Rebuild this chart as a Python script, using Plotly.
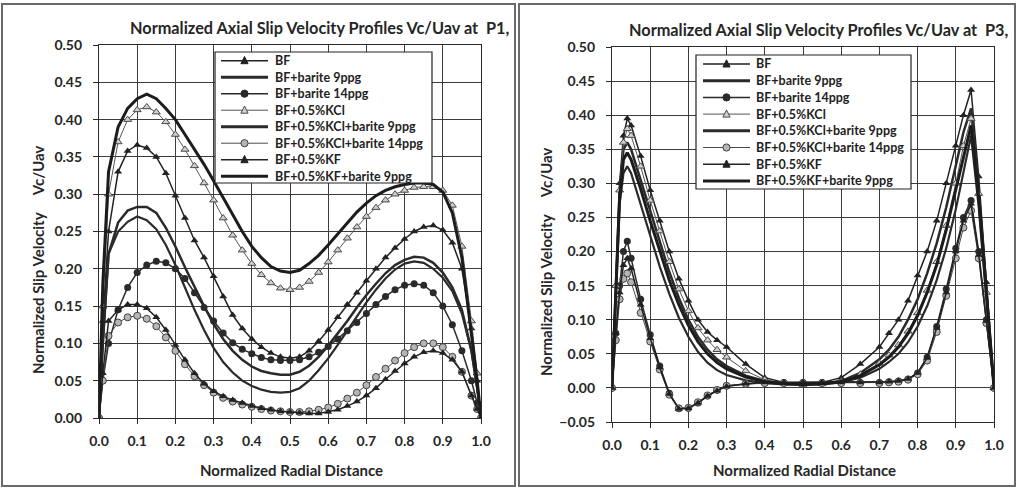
import plotly.graph_objects as go

# ---------------- data ----------------
names = ["BF", "BF+barite 9ppg", "BF+barite 14ppg", "BF+0.5%KCl",
         "BF+0.5%KCl+barite 9ppg", "BF+0.5%KCl+barite 14ppg", "BF+0.5%KF",
         "BF+0.5%KF+barite 9ppg"]

x_ticks = [0.0, 0.1, 0.2, 0.3, 0.4, 0.5, 0.6, 0.7, 0.8, 0.9, 1.0]

# P1 panel
x_p1 = [0, 0.01, 0.025, 0.05, 0.075, 0.1, 0.125, 0.15, 0.175, 0.2, 0.225, 0.25,
        0.275, 0.3, 0.325, 0.35, 0.375, 0.4, 0.425, 0.45, 0.475, 0.5, 0.525, 0.55,
        0.575, 0.6, 0.625, 0.65, 0.675, 0.7, 0.725, 0.75, 0.775, 0.8, 0.825, 0.85,
        0.875, 0.9, 0.925, 0.95, 0.975, 0.99, 1.0]

p1_bf = [0, 0.13, 0.25, 0.33, 0.358, 0.366, 0.362, 0.35, 0.328, 0.298, 0.268, 0.238,
         0.215, 0.19, 0.163, 0.138, 0.12, 0.106, 0.095, 0.087, 0.082, 0.08, 0.082, 0.09,
         0.103, 0.118, 0.135, 0.152, 0.168, 0.184, 0.2, 0.215, 0.228, 0.24, 0.25, 0.256,
         0.258, 0.252, 0.235, 0.2, 0.12, 0.05, 0]
p1_bar9 = [0, 0.1, 0.22, 0.262, 0.278, 0.283, 0.283, 0.275, 0.255, 0.23, 0.202, 0.175,
           0.15, 0.126, 0.106, 0.09, 0.078, 0.069, 0.063, 0.06, 0.058, 0.058, 0.062, 0.07,
           0.082, 0.097, 0.113, 0.13, 0.148, 0.165, 0.18, 0.194, 0.205, 0.212, 0.216, 0.215,
           0.208, 0.195, 0.175, 0.145, 0.09, 0.04, 0]
p1_bar14 = [0, 0.05, 0.1, 0.145, 0.175, 0.195, 0.205, 0.21, 0.208, 0.2, 0.187, 0.168,
            0.148, 0.13, 0.114, 0.101, 0.092, 0.086, 0.081, 0.078, 0.077, 0.077, 0.078, 0.082,
            0.088, 0.096, 0.106, 0.117, 0.128, 0.14, 0.152, 0.163, 0.172, 0.178, 0.18, 0.178,
            0.168, 0.15, 0.125, 0.09, 0.05, 0.02, 0]
p1_kcl = [0, 0.15, 0.30, 0.37, 0.40, 0.413, 0.417, 0.41, 0.397, 0.38, 0.36, 0.338,
          0.315, 0.292, 0.268, 0.245, 0.225, 0.207, 0.192, 0.181, 0.174, 0.172, 0.175, 0.183,
          0.195, 0.209, 0.225, 0.241, 0.256, 0.27, 0.282, 0.292, 0.3, 0.305, 0.309, 0.31,
          0.31, 0.305, 0.285, 0.23, 0.13, 0.06, 0]
p1_kcl_bar9 = [0, 0.1, 0.22, 0.25, 0.263, 0.27, 0.265, 0.253, 0.232, 0.205, 0.175, 0.145,
               0.118, 0.094, 0.075, 0.061, 0.05, 0.043, 0.038, 0.035, 0.034, 0.035, 0.04, 0.05,
               0.064, 0.08, 0.098, 0.117, 0.136, 0.155, 0.172, 0.187, 0.199, 0.207, 0.21, 0.208,
               0.2, 0.188, 0.17, 0.14, 0.09, 0.04, 0]
p1_kcl_bar14 = [0, 0.05, 0.11, 0.128, 0.135, 0.137, 0.133, 0.123, 0.108, 0.09, 0.072, 0.056,
                0.044, 0.034, 0.027, 0.022, 0.018, 0.015, 0.012, 0.01, 0.009, 0.008, 0.008, 0.009,
                0.011, 0.014, 0.019, 0.026, 0.034, 0.044, 0.055, 0.066, 0.077, 0.087, 0.095, 0.1,
                0.1, 0.095, 0.082, 0.062, 0.03, 0.012, 0]
p1_kf = [0, 0.06, 0.13, 0.145, 0.152, 0.152, 0.147, 0.135, 0.118, 0.098, 0.078, 0.06,
         0.046, 0.036, 0.029, 0.024, 0.02, 0.016, 0.013, 0.011, 0.009, 0.008, 0.007, 0.006,
         0.006, 0.008, 0.011, 0.016, 0.022, 0.03, 0.04, 0.052, 0.063, 0.073, 0.082, 0.088,
         0.09, 0.087, 0.078, 0.062, 0.03, 0.012, 0]
p1_kf_bar9 = [0, 0.18, 0.33, 0.39, 0.415, 0.428, 0.434, 0.428, 0.415, 0.40, 0.38, 0.36,
              0.34, 0.318, 0.295, 0.272, 0.25, 0.23, 0.215, 0.203, 0.197, 0.195, 0.198, 0.207,
              0.218, 0.232, 0.247, 0.262, 0.276, 0.288, 0.298, 0.305, 0.31, 0.313, 0.315, 0.315,
              0.313, 0.303, 0.275, 0.215, 0.115, 0.05, 0]

# P3 panel
x_p3 = [0, 0.01, 0.02, 0.03, 0.04, 0.05, 0.075, 0.1, 0.125, 0.15, 0.175, 0.2, 0.225,
        0.25, 0.275, 0.3, 0.35, 0.4, 0.45, 0.5, 0.55, 0.6, 0.65, 0.7, 0.725, 0.75, 0.775,
        0.8, 0.825, 0.85, 0.875, 0.9, 0.92, 0.94, 0.96, 0.98, 1.0]

p3_bf = [0, 0.15, 0.3, 0.37, 0.395, 0.385, 0.34, 0.29, 0.245, 0.2, 0.16, 0.128, 0.1,
         0.082, 0.07, 0.06, 0.035, 0.015, 0.008, 0.006, 0.008, 0.015, 0.035, 0.06, 0.08, 0.1,
         0.128, 0.165, 0.2, 0.245, 0.3, 0.355, 0.4, 0.437, 0.31, 0.155, 0]
p3_bar9 = [0, 0.15, 0.29, 0.35, 0.36, 0.35, 0.305, 0.258, 0.212, 0.17, 0.132, 0.1, 0.075,
           0.056, 0.042, 0.032, 0.018, 0.01, 0.006, 0.005, 0.006, 0.01, 0.022, 0.042, 0.056,
           0.075, 0.1, 0.13, 0.168, 0.212, 0.265, 0.325, 0.375, 0.41, 0.29, 0.145, 0]
p3_bar14 = [0, 0.08, 0.15, 0.2, 0.215, 0.19, 0.13, 0.078, 0.032, -0.008, -0.03, -0.03,
            -0.022, -0.012, -0.003, 0.003, 0.006, 0.008, 0.008, 0.008, 0.008, 0.008, 0.008,
            0.008, 0.009, 0.01, 0.013, 0.022, 0.045, 0.09, 0.145, 0.205, 0.25, 0.275, 0.2,
            0.1, 0]
p3_kcl = [0, 0.15, 0.29, 0.36, 0.38, 0.37, 0.325, 0.275, 0.23, 0.185, 0.145, 0.113, 0.088,
          0.07, 0.056, 0.045, 0.025, 0.012, 0.007, 0.005, 0.006, 0.01, 0.02, 0.036, 0.048,
          0.063, 0.083, 0.11, 0.143, 0.185, 0.238, 0.3, 0.355, 0.395, 0.285, 0.14, 0]
p3_kcl_bar9 = [0, 0.14, 0.27, 0.315, 0.325, 0.315, 0.27, 0.222, 0.178, 0.138, 0.103, 0.075,
               0.053, 0.037, 0.026, 0.019, 0.011, 0.007, 0.005, 0.005, 0.005, 0.008, 0.015,
               0.028, 0.038, 0.05, 0.067, 0.09, 0.12, 0.158, 0.205, 0.262, 0.315, 0.37, 0.265,
               0.13, 0]
p3_kcl_bar14 = [0, 0.07, 0.13, 0.16, 0.168, 0.155, 0.11, 0.068, 0.027, -0.01, -0.03, -0.029,
                -0.021, -0.011, -0.003, 0.003, 0.006, 0.007, 0.007, 0.007, 0.007, 0.007, 0.007,
                0.007, 0.008, 0.009, 0.012, 0.02, 0.04, 0.082, 0.135, 0.19, 0.235, 0.26, 0.19,
                0.095, 0]
p3_kf = [0, 0.08, 0.14, 0.18, 0.19, 0.175, 0.122, 0.073, 0.03, -0.009, -0.031, -0.03,
         -0.022, -0.012, -0.004, 0.002, 0.006, 0.008, 0.008, 0.008, 0.008, 0.008, 0.008,
         0.008, 0.009, 0.01, 0.013, 0.022, 0.044, 0.088, 0.14, 0.2, 0.245, 0.27, 0.195,
         0.098, 0]
p3_kf_bar9 = [0, 0.15, 0.28, 0.335, 0.345, 0.335, 0.292, 0.245, 0.2, 0.158, 0.122, 0.092,
              0.068, 0.05, 0.037, 0.028, 0.016, 0.009, 0.006, 0.005, 0.006, 0.009, 0.018,
              0.034, 0.045, 0.06, 0.08, 0.106, 0.14, 0.18, 0.232, 0.29, 0.34, 0.385, 0.28,
              0.14, 0]

p1_series = [p1_bf, p1_bar9, p1_bar14, p1_kcl, p1_kcl_bar9, p1_kcl_bar14, p1_kf, p1_kf_bar9]
p3_series = [p3_bf, p3_bar9, p3_bar14, p3_kcl, p3_kcl_bar9, p3_kcl_bar14, p3_kf, p3_kf_bar9]

# ---------------- styles ----------------
DARK = "#222222"
styles = [
    dict(mode="lines+markers", line=dict(color=DARK, width=1.5),
         marker=dict(symbol="triangle-up", size=7, color=DARK)),
    dict(mode="lines", line=dict(color="#2a2a2a", width=2.5)),
    dict(mode="lines+markers", line=dict(color="#2a2a2a", width=1.5),
         marker=dict(symbol="circle", size=7, color="#2a2a2a")),
    dict(mode="lines+markers", line=dict(color="#555555", width=1),
         marker=dict(symbol="triangle-up", size=7, color="#cfcfcf",
                     line=dict(color="#4a4a4a", width=1))),
    dict(mode="lines", line=dict(color="#2a2a2a", width=2.2)),
    dict(mode="lines+markers", line=dict(color="#4a4a4a", width=1),
         marker=dict(symbol="circle", size=7, color="#b5b5b5",
                     line=dict(color="#404040", width=1))),
    dict(mode="lines+markers", line=dict(color=DARK, width=1.5),
         marker=dict(symbol="triangle-up", size=7, color=DARK)),
    dict(mode="lines", line=dict(color="#1c1c1c", width=3)),
]

fig = go.Figure()
for nm, ys, st in zip(names, p1_series, styles):
    fig.add_trace(go.Scatter(x=x_p1, y=ys, name=nm, xaxis="x", yaxis="y",
                             showlegend=False, **st))
for nm, ys, st in zip(names, p3_series, styles):
    fig.add_trace(go.Scatter(x=x_p3, y=ys, name=nm, xaxis="x2", yaxis="y2",
                             showlegend=False, **st))

W, H = 1017, 489
def px(xp):
    return xp / W
def py(yp):
    return 1 - yp / H

tickfont = dict(family="Lato", size=14, color="#262626", weight="bold")
common = dict(showgrid=True, gridcolor="#3c3c3c", gridwidth=1.2, showline=True,
              linecolor="#2a2a2a", linewidth=1.2, mirror=True, ticks="outside",
              ticklen=5, tickcolor="#2a2a2a", tickfont=tickfont, zeroline=False)

fig.update_layout(
    width=W, height=H, margin=dict(l=0, r=0, t=0, b=0, autoexpand=False),
    paper_bgcolor="white", plot_bgcolor="white", showlegend=False,
    xaxis=dict(domain=[px(99), px(481)], range=[0, 1], tickvals=x_ticks,
               tickformat=".1f", anchor="y", ticklabelstandoff=5, **common),
    yaxis=dict(domain=[py(418), py(45)], range=[0, 0.5], dtick=0.05,
               tickformat=".2f", anchor="x", ticklabelstandoff=8, **common),
    xaxis2=dict(domain=[px(612), px(994)], range=[0, 1], tickvals=x_ticks,
                tickformat=".1f", anchor="y2", ticklabelstandoff=5, **common),
    yaxis2=dict(domain=[py(422), py(47)], range=[-0.05, 0.5], dtick=0.05,
                tickformat=".2f", anchor="x2", ticklabelstandoff=8, **common),
)

title_font = dict(family="Lato", size=16.3, color="#262626", weight="bold")
axis_font = dict(family="Lato", size=15, color="#262626", weight="bold")
anns = [
    ("Normalized Axial Slip Velocity Profiles Vc/Uav at&nbsp; P1,", 320, 28, 0, title_font),
    ("Normalized Axial Slip Velocity Profiles Vc/Uav at&nbsp; P3,", 819, 29, 0, title_font),
    ("Normalized Radial Distance", 291, 470, 0, axis_font),
    ("Normalized Radial Distance", 804, 470, 0, axis_font),
    ("Normalized Slip Velocity&nbsp;&nbsp;&nbsp;&nbsp; Vc/Uav", 38, 260, -90, axis_font),
    ("Normalized Slip Velocity&nbsp;&nbsp;&nbsp;&nbsp; Vc/Uav", 546, 262, -90, axis_font),
]
for txt, ax_, ay_, rot, fnt in anns:
    fig.add_annotation(text=txt, x=px(ax_), y=py(ay_), xref="paper", yref="paper",
                       showarrow=False, xanchor="center", yanchor="middle",
                       textangle=rot, font=fnt)

# panel frames
for x0, x1 in [(2, 515), (519, 1015)]:
    fig.add_shape(type="rect", xref="paper", yref="paper",
                  x0=px(x0), x1=px(x1), y0=py(486), y1=py(4),
                  line=dict(color="#6a6a6a", width=2))

# legend boxes (compact, Excel style), built from the same names and styles
legfont = dict(family="Lato", size=12.5, color="#222222", weight="bold")
def add_legend(bx0, by0, bx1, by1, row0, dy, sx0, sx1, tx):
    fig.add_shape(type="rect", xref="paper", yref="paper",
                  x0=px(bx0), x1=px(bx1), y0=py(by1), y1=py(by0),
                  fillcolor="white", line=dict(color="#222222", width=1.2))
    for i, (nm, st) in enumerate(zip(names, styles)):
        cy = row0 + i * dy
        ln = st["line"]
        has_marker = "marker" in st
        fig.add_shape(type="line", xref="paper", yref="paper",
                      x0=px(sx0), x1=px(sx1), y0=py(cy), y1=py(cy),
                      line=dict(color=ln["color"], width=ln["width"] if has_marker else 3))
        if has_marker:
            mk = st["marker"]
            cx = (sx0 + sx1) / 2
            outline = mk.get("line", {}).get("color", mk["color"])
            r = 3.6
            if mk["symbol"] == "circle":
                fig.add_shape(type="circle", xref="paper", yref="paper",
                              xsizemode="pixel", ysizemode="pixel",
                              xanchor=px(cx), yanchor=py(cy),
                              x0=-r, x1=r, y0=-r, y1=r,
                              fillcolor=mk["color"], line=dict(color=outline, width=1))
            else:
                fig.add_shape(type="path", xref="paper", yref="paper",
                              xsizemode="pixel", ysizemode="pixel",
                              xanchor=px(cx), yanchor=py(cy),
                              path=f"M {-r} -3 L {r} -3 L 0 4.2 Z",
                              fillcolor=mk["color"], line=dict(color=outline, width=1))
        fig.add_annotation(text=nm, x=px(tx), y=py(cy), xref="paper", yref="paper",
                           xanchor="left", yanchor="middle", showarrow=False,
                           font=legfont)

add_legend(215, 52, 432, 183, 60.7, 16.5, 221, 268, 273)
add_legend(696, 55, 911, 189, 64.0, 16.7, 703, 750, 754)

fig.write_html("out.html",
               post_script="document.body.style.margin='0px';"
                           "document.body.style.padding='0px';"
                           "document.documentElement.style.margin='0px';")
